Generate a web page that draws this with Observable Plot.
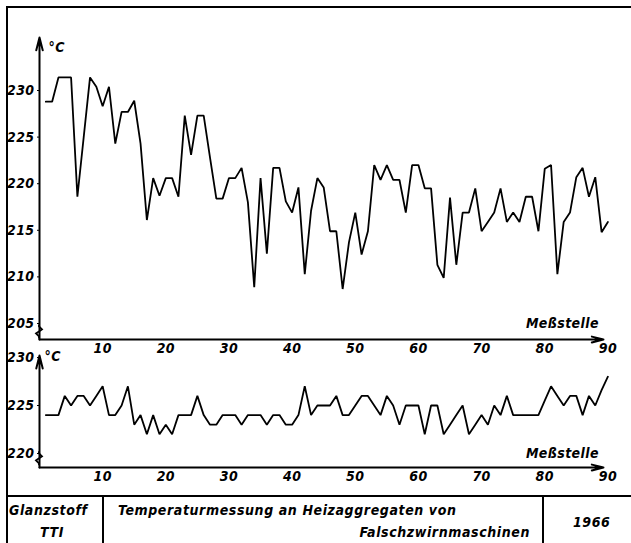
<!DOCTYPE html>
<html>
<head>
<meta charset="utf-8">
<script src="https://cdn.jsdelivr.net/npm/d3@7"></script>
<script src="https://cdn.jsdelivr.net/npm/@observablehq/plot@0.6"></script>
<style>
  body { margin: 0; background: #fff; }
  #sheet { position: relative; width: 631px; height: 543px; overflow: hidden; background: #fff;
           font-family: "DejaVu Sans Condensed", "DejaVu Sans", sans-serif; font-style: italic; font-weight: bold; color: #000; }
  #sheet svg { position: absolute; left: 0; }
  #sheet svg text { letter-spacing: 0.4px; }
  .frame { position: absolute; left: 6px; top: 6px; width: 640px; height: 560px;
           border-left: 2px solid #000; border-top: 2px solid #000; }
  .rule { position: absolute; background: #000; }
  .t { position: absolute; font-size: 14px; line-height: 14px; white-space: nowrap; letter-spacing: 0.6px; }
</style>
</head>
<body>
<div id="sheet">
  <div class="frame"></div>
  <div class="rule" style="left:7px;top:495px;width:624px;height:2px"></div>
  <div class="rule" style="left:102px;top:495px;width:2px;height:48px"></div>
  <div class="rule" style="left:542px;top:495px;width:2px;height:48px"></div>
  <div class="t" style="left:9px;top:503px">Glanzstoff</div>
  <div class="t" style="left:40px;top:525px">TTI</div>
  <div class="t" style="left:118px;top:503px">Temperaturmessung an Heizaggregaten von</div>
  <div class="t" style="right:101px;top:525px">Falschzwirnmaschinen</div>
  <div class="t" style="left:573px;top:515px">1966</div>
</div>
<script>
// Measuring points 1..90
const stations = d3.range(1, 91);

// Upper trace (°C)
const upperTemps = [
  228.8, 228.8, 231.4, 231.4, 231.4, 218.6, 225.0, 231.4, 230.4, 228.3,
  230.4, 224.3, 227.7, 227.7, 228.9, 224.3, 216.1, 220.6, 218.7, 220.6,
  220.6, 218.6, 227.3, 223.1, 227.3, 227.3, 222.8, 218.4, 218.4, 220.6,
  220.6, 221.7, 218.0, 208.9, 220.6, 212.5, 221.7, 221.7, 218.1, 216.9,
  219.6, 210.3, 217.1, 220.6, 219.6, 214.9, 214.9, 208.7, 213.7, 216.9,
  212.4, 214.9, 222.0, 220.4, 222.0, 220.4, 220.4, 216.9, 222.0, 222.0,
  219.5, 219.5, 211.3, 209.9, 218.5, 211.3, 216.9, 216.9, 219.5, 214.9,
  215.9, 216.9, 219.5, 215.9, 216.9, 215.9, 218.6, 218.6, 214.9, 221.6,
  222.0, 210.3, 215.9, 216.9, 220.7, 221.7, 218.6, 220.7, 214.8, 215.9
];

// Lower trace (°C)
const lowerTemps = [
  224, 224, 224, 226, 225, 226, 226, 225, 226, 227,
  224, 224, 225, 227, 223, 224, 222, 224, 222, 223,
  222, 224, 224, 224, 226, 224, 223, 223, 224, 224,
  224, 223, 224, 224, 224, 223, 224, 224, 223, 223,
  224, 227, 224, 225, 225, 225, 226, 224, 224, 225,
  226, 226, 225, 224, 226, 225, 223, 225, 225, 225,
  222, 225, 225, 222, 223, 224, 225, 222, 223, 224,
  223, 225, 224, 226, 224, 224, 224, 224, 224, 225.5,
  227, 226, 225, 226, 226, 224, 226, 225, 226.6, 228
];

const xTicks = [10, 20, 30, 40, 50, 60, 70, 80, 90];
const upperTicks = [205, 210, 215, 220, 225, 230];
const lowerTicks = [220, 225, 230];
const xLabel = "Meßstelle";
const unitLabel = "°C";

const upperData = stations.map((n, i) => ({n, t: upperTemps[i]}));
const lowerData = stations.map((n, i) => ({n, t: lowerTemps[i]}));

const font = {background: "transparent", fontFamily: "'DejaVu Sans Condensed', 'DejaVu Sans', sans-serif",
  fontStyle: "italic", fontWeight: "bold", fontSize: "14px", overflow: "visible", color: "#000"};

// Small zig-zag on the value axis showing that it does not start at zero
function axisBreak(breakAt) {
  return (index, {x, y}) => {
    const cx = x(0), cy = y(breakAt);
    const path = d3.create("svg:path")
      .attr("d", `M${cx},${cy - 7} L${cx},${cy - 5} L${cx + 3},${cy - 2} L${cx - 3},${cy + 2} L${cx},${cy + 5} L${cx},${cy + 7}`)
      .attr("fill", "none").attr("stroke", "#000").attr("stroke-width", 1.8);
    return path.node();
  };
}

// Draws one panel: axes with arrow heads, the broken-axis mark, tick labels and the trace
function panel({data, ticks, yDomain, yRange, height, marginBottom, base, top, breakAt, unitY, unitDx}) {
  const axisEnd = 89.3;
  return Plot.plot({
    width: 631, height,
    marginLeft: 39, marginRight: 23.6, marginTop: 0, marginBottom,
    style: font,
    x: {domain: [0, 90]},
    y: {domain: yDomain, range: yRange},
    marks: [
      Plot.axisY(ticks, {tickSize: 2, tickPadding: 3, label: null, fontSize: 14}),
      Plot.axisX(xTicks, {tickSize: 0, tickPadding: 4, label: null, fontSize: 14}),
      Plot.arrow([{x1: 0, y1: base, x2: axisEnd, y2: base}], {x1: "x1", y1: "y1", x2: "x2", y2: "y2", stroke: "#000", strokeWidth: 2, headLength: 9, headAngle: 28}),
      Plot.arrow([{x1: 0, y1: base, x2: 0, y2: top}], {x1: "x1", y1: "y1", x2: "x2", y2: "y2", stroke: "#000", strokeWidth: 2, headLength: 10, headAngle: 28}),
      axisBreak(breakAt),
      Plot.text([{x: 0, y: unitY}], {x: "x", y: "y", text: () => unitLabel, dx: unitDx, textAnchor: "start", fontSize: 14}),
      Plot.text([{x: 90, y: yDomain[0]}], {x: "x", y: "y", text: () => xLabel, dx: -9, textAnchor: "end", fontSize: 14}),
      Plot.line(data, {x: "n", y: "t", stroke: "#000", strokeWidth: 1.8, strokeLinejoin: "miter"})
    ]
  });
}

const upper = panel({
  data: upperData, ticks: upperTicks,
  yDomain: [205, 230], yRange: [323, 90],
  height: 362, marginBottom: 23,
  base: 203.28, top: 235.7, breakAt: 204.1, unitY: 234.6, unitDx: 9
});
upper.style.top = "0px";

const lower = panel({
  data: lowerData, ticks: lowerTicks,
  yDomain: [220, 230], yRange: [113, 17],
  height: 155, marginBottom: 28,
  base: 218.54, top: 230.2, breakAt: 219.45, unitY: 230.1, unitDx: 5
});
lower.style.top = "340px";

const sheet = document.getElementById("sheet");
sheet.appendChild(upper);
sheet.appendChild(lower);
d3.selectAll("#sheet svg text").filter(function() { return this.textContent === xLabel; }).attr("letter-spacing", "2px");
</script>
</body>
</html>
